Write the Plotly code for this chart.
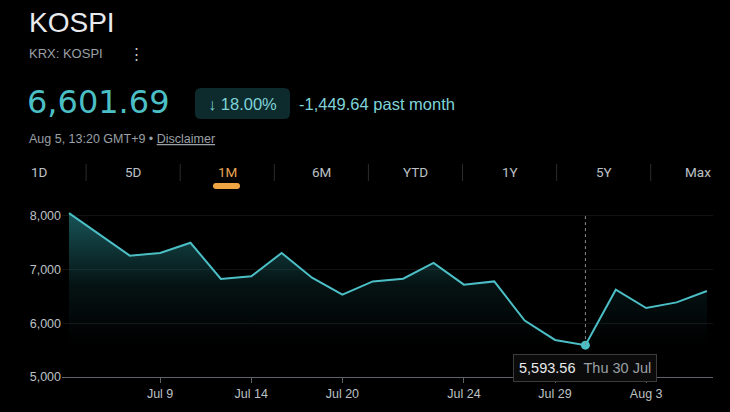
import plotly.graph_objects as go

# KOSPI, last month (trading days)
dates = ["Jul 6", "Jul 7", "Jul 8", "Jul 9", "Jul 10", "Jul 13", "Jul 14", "Jul 15",
         "Jul 16", "Jul 20", "Jul 21", "Jul 22", "Jul 23", "Jul 24", "Jul 27", "Jul 28",
         "Jul 29", "Jul 30", "Jul 31", "Aug 3", "Aug 4", "Aug 5"]
values = [8051.33, 7660, 7260, 7310, 7500, 6825, 6875, 7310,
          6850, 6535, 6780, 6830, 7125, 6720, 6780, 6050,
          5690, 5593.56, 6625, 6285, 6390, 6601.69]
tick_dates = ["Jul 9", "Jul 14", "Jul 20", "Jul 24", "Jul 29", "Aug 3"]
y_ticks = [5000, 6000, 7000, 8000]
tabs = ["1D", "5D", "1M", "6M", "YTD", "1Y", "5Y", "Max"]
selected_tab = "1M"
hover_idx = 17

W, H = 730, 412
L, R, T, B = 62, 17, 210, 35
TEAL = "#4bbfc5"
GREY = "#9aa0a6"


def px(x):
    return (x - L) / (W - L - R)


def py(y):
    return (H - B - y) / (H - T - B)


def rounded_rect(x0, y0, x1, y1, r):
    # pixel box -> paper path with rounded corners
    rx = r / (W - L - R)
    ry = r / (H - T - B)
    a, b, c, d = px(x0), py(y1), px(x1), py(y0)
    return (f"M{a + rx},{b} L{c - rx},{b} Q{c},{b} {c},{b + ry} L{c},{d - ry} "
            f"Q{c},{d} {c - rx},{d} L{a + rx},{d} Q{a},{d} {a},{d - ry} "
            f"L{a},{b + ry} Q{a},{b} {a + rx},{b} Z")


fig = go.Figure()

fig.add_trace(go.Scatter(
    x=dates, y=values, mode="lines",
    line=dict(color=TEAL, width=2),
    fill="tozeroy",
    fillgradient=dict(type="vertical", start=5600, stop=8050,
                      colorscale=[[0, "rgba(40,140,145,0)"],
                                  [0.45, "rgba(40,140,145,0.13)"],
                                  [1, "rgba(40,140,145,0.6)"]]),
    hoverinfo="skip", showlegend=False))

fig.add_trace(go.Scatter(
    x=[dates[hover_idx]], y=[values[hover_idx]], mode="markers",
    marker=dict(color=TEAL, size=9), hoverinfo="skip", showlegend=False))

shapes = [
    dict(type="line", xref="x", yref="y", x0=hover_idx, x1=hover_idx,
         y0=values[hover_idx], y1=8040,
         line=dict(color="#8a8f94", width=1, dash="dot")),
    dict(type="path", xref="paper", yref="paper", path=rounded_rect(195, 88, 290, 119, 6),
         fillcolor="#0d2a2c", line=dict(width=0)),
    dict(type="path", xref="paper", yref="paper", path=rounded_rect(213, 183, 240, 189, 3),
         fillcolor="#f0a545", line=dict(width=0)),
]

ann = [
    dict(x=px(27), y=py(22), text="KOSPI", font=dict(size=28, color="#e8eaed")),
    dict(x=px(27), y=py(53), text="KRX: KOSPI", font=dict(size=13, color=GREY)),
    dict(x=px(127), y=py(53), text="⋮", font=dict(size=15, color="#c4c7c5")),
    dict(x=px(25), y=py(102), text="6,601.69",
         font=dict(size=32, color=TEAL, family="DejaVu Sans, sans-serif")),
    dict(x=px(206), y=py(104), text="↓ 18.00%", font=dict(size=16.5, color="#7fd3d8")),
    dict(x=px(297), y=py(104), text="-1,449.64 past month", font=dict(size=16.5, color="#7fd3d8")),
    dict(x=px(27), y=py(139), font=dict(size=12.5, color=GREY),
         text="Aug 5, 13:20 GMT+9 • <u>Disclaimer</u>"),
]
for a in ann:
    a.update(xref="paper", yref="paper", xanchor="left", yanchor="middle", showarrow=False)
    if "family" not in a["font"]:
        a["font"]["family"] = "Liberation Sans, Arial, sans-serif"

for i, t in enumerate(tabs):
    cx = 39 + 94.1 * i
    col = "#e8a552" if t == selected_tab else "#bdc1c6"
    ann.append(dict(x=px(cx), y=py(172), xref="paper", yref="paper", text=t,
                    showarrow=False, xanchor="center", yanchor="middle",
                    font=dict(size=13.5, color=col, family="Roboto, sans-serif")))
    if i > 0:
        sx = cx - 47
        shapes.append(dict(type="line", xref="paper", yref="paper",
                           x0=px(sx), x1=px(sx), y0=py(164), y1=py(181),
                           line=dict(color="#2a2c2e", width=1)))

ann.append(dict(
    x=dates[hover_idx], y=py(368), xref="x", yref="paper", showarrow=False,
    xanchor="center", yanchor="middle",
    text=f"<span style='color:#e8eaed'>{values[hover_idx]:,.2f}</span>&nbsp;&nbsp;"
         f"<span style='color:{GREY}'>Thu 30 Jul</span>",
    font=dict(size=14.5, family="Liberation Sans, Arial, sans-serif"),
    bgcolor="#0b0b0b", bordercolor="#3a3c3e", borderwidth=1, borderpad=5))

fig.update_layout(
    width=W, height=H,
    margin=dict(l=L, r=R, t=T, b=B),
    paper_bgcolor="#000000", plot_bgcolor="#000000",
    font=dict(family="Liberation Sans, Arial, sans-serif", color="#bdc1c6", size=12.5),
    shapes=shapes, annotations=ann,
    xaxis=dict(type="category", range=[-0.23, len(dates) - 0.8],
               tickvals=tick_dates, ticktext=tick_dates,
               showgrid=False, zeroline=False,
               showline=True, linecolor="#5f6368", linewidth=1,
               ticks="outside", ticklen=5, tickcolor="#5f6368",
               tickfont=dict(size=12.5, color="#bdc1c6")),
    yaxis=dict(range=[5000, 8110], tickvals=y_ticks, tickformat=",d",
               showgrid=True, gridcolor="rgba(255,255,255,0.07)", gridwidth=1,
               zeroline=False, showline=False, ticks="",
               tickfont=dict(size=12.5, color="#bdc1c6")),
)

# page body has a default margin; drop it so the figure fills the window
fig.write_html("out.html", config={"displayModeBar": False},
               post_script="document.body.style.margin='0';"
                           "document.body.style.background='#000';")
